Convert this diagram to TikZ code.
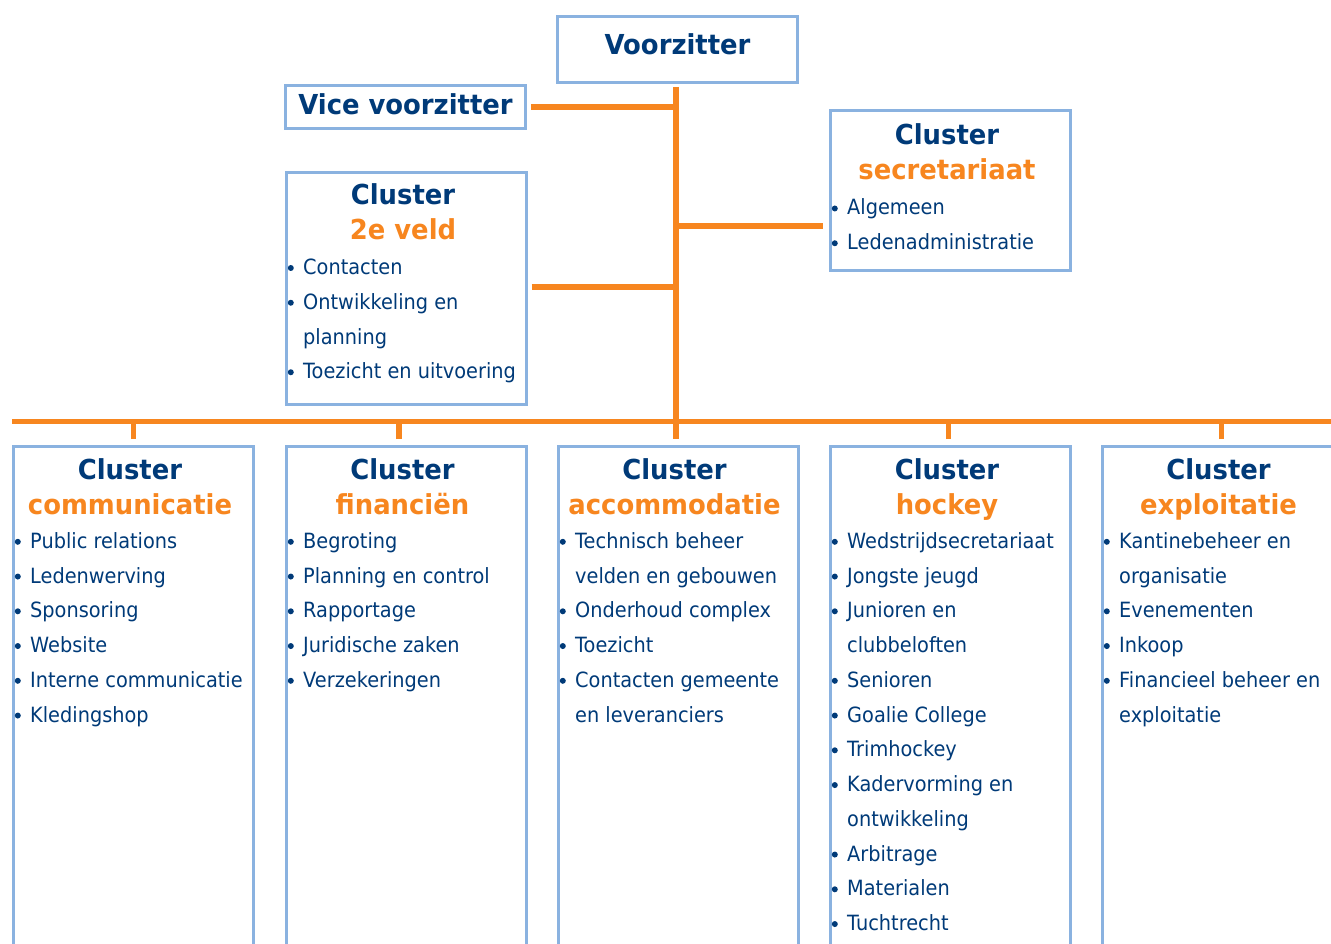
\documentclass[tikz,border=0pt]{standalone}
\usepackage{fontspec}
\setmainfont{DejaVu Sans}[FakeStretch=0.92, BoldFeatures={FakeStretch=0.94}]
\definecolor{navy}{RGB}{0,58,120}
\definecolor{orng}{RGB}{247,134,31}
\definecolor{lblue}{RGB}{138,178,224}
\newcommand\clist[4]{%
  \foreach \f/\t [count=\i] in {#4} {%
    \node[item] (#3-\i) at (#1+17, #2+34.75*\i-34.75) {\t};
    \ifnum\f=1 \fill[navy] (#1+4.8, #2+34.75*\i-34.75-6.5) circle (3pt);\fi
  }}
\begin{document}
\begin{tikzpicture}[x=1pt,y=-1pt,
  box/.style={draw=lblue, line width=3pt, inner sep=0pt, outer sep=0pt, anchor=north west, minimum width=240.5pt},
  conn/.style={draw=orng, line width=5.5pt},
  head/.style={font=\bfseries\fontsize{27.5}{32}\selectfont, text=navy, anchor=base, inner sep=0pt},
  sub/.style={font=\bfseries\fontsize{27.5}{32}\selectfont, text=orng, anchor=base, inner sep=0pt},
  item/.style={font=\fontsize{21}{24}\selectfont, text=navy, anchor=base west, inner sep=0pt}]
\useasboundingbox (0,0) rectangle (1331,944);
\clip (0,0) rectangle (1331,944);

% top boxes
\node[box, minimum height=65.5pt] (vz) at (557.3,16.8) {};
\node[head] (vzt) at (677.5,55) {Voorzitter};
\node[box, minimum height=43pt] (vice) at (285.3,86) {};
\node[head] (vicet) at (405.5,115) {Vice voorzitter};
\node[box, minimum height=231pt] (veld) at (286,173) {};
\node[head] (veldh) at (403,204.5) {Cluster};
\node[sub] (velds) at (403,239.5) {2e veld};
\clist{286}{274.5}{veldl}{1/Contacten,1/Ontwikkeling en,0/planning,1/Toezicht en uitvoering}
\node[box, minimum height=160pt] (sec) at (830,111) {};
\node[head] (sech) at (947,145) {Cluster};
\node[sub] (secs) at (947,180) {secretariaat};
\clist{830}{215}{secl}{1/Algemeen,1/Ledenadministratie}

% bottom boxes
\node[box, minimum height=600pt] (b1) at (13,446) {};
\node[box, minimum height=600pt] (b2) at (286,446) {};
\node[box, minimum height=600pt] (b3) at (558,446) {};
\node[box, minimum height=600pt] (b4) at (830,446) {};
\node[box, minimum height=600pt] (b5) at (1102,446) {};
\node[head] (b1h) at (130,479) {Cluster};
\node[sub]  (b1s) at (130,514) {communicatie};
\node[head] (b2h) at (402.5,479) {Cluster};
\node[sub]  (b2s) at (402.5,514) {financiën};
\node[head] (b3h) at (674.5,479) {Cluster};
\node[sub]  (b3s) at (674.5,514) {accommodatie};
\node[head] (b4h) at (947,479) {Cluster};
\node[sub]  (b4s) at (947,514) {hockey};
\node[head] (b5h) at (1218.5,479) {Cluster};
\node[sub]  (b5s) at (1218.5,514) {exploitatie};
\clist{13}{548.3}{l1}{1/Public relations,1/Ledenwerving,1/Sponsoring,1/Website,1/Interne communicatie,1/Kledingshop}
\clist{286}{548.3}{l2}{1/Begroting,1/Planning en control,1/Rapportage,1/Juridische zaken,1/Verzekeringen}
\clist{558}{548.3}{l3}{1/Technisch beheer,0/velden en gebouwen,1/Onderhoud complex,1/Toezicht,1/Contacten gemeente,0/en leveranciers}
\clist{830}{548.3}{l4}{1/Wedstrijdsecretariaat,1/Jongste jeugd,1/Junioren en,0/clubbeloften,1/Senioren,1/Goalie College,1/Trimhockey,1/Kadervorming en,0/ontwikkeling,1/Arbitrage,1/Materialen,1/Tuchtrecht}
\clist{1102}{548.3}{l5}{1/Kantinebeheer en,0/organisatie,1/Evenementen,1/Inkoop,1/Financieel beheer en,0/exploitatie}

% connectors
\coordinate (trunktop) at (676,87);
\coordinate (trunkbot) at (676,439);
\coordinate (barL) at (12,421.5);
\coordinate (barR) at (1340,421.5);
\coordinate (secj) at (676,226);
\draw[conn] (trunktop) -- (trunkbot);
\draw[conn] (barL) -- (barR);
\draw[conn] ([xshift=5pt,yshift=0.5pt]vice.east) -- ([yshift=0.5pt]vice.east -| trunktop);
\draw[conn] ([xshift=5pt,yshift=1.5pt]veld.east) -- ([yshift=1.5pt]veld.east -| trunktop);
\draw[conn, shorten >=7pt] (secj) -- (secj -| sec.west);
\draw[conn] ([yshift=7pt]b1.north) -- (b1.north |- barL);
\draw[conn] ([xshift=-7.5pt,yshift=7pt]b2.north) -- ([xshift=-7.5pt]b2.north |- barL);
\draw[conn] ([xshift=-2pt,yshift=7pt]b4.north) -- ([xshift=-2pt]b4.north |- barL);
\draw[conn] ([xshift=-1pt,yshift=7pt]b5.north) -- ([xshift=-1pt]b5.north |- barL);
\end{tikzpicture}
\end{document}
